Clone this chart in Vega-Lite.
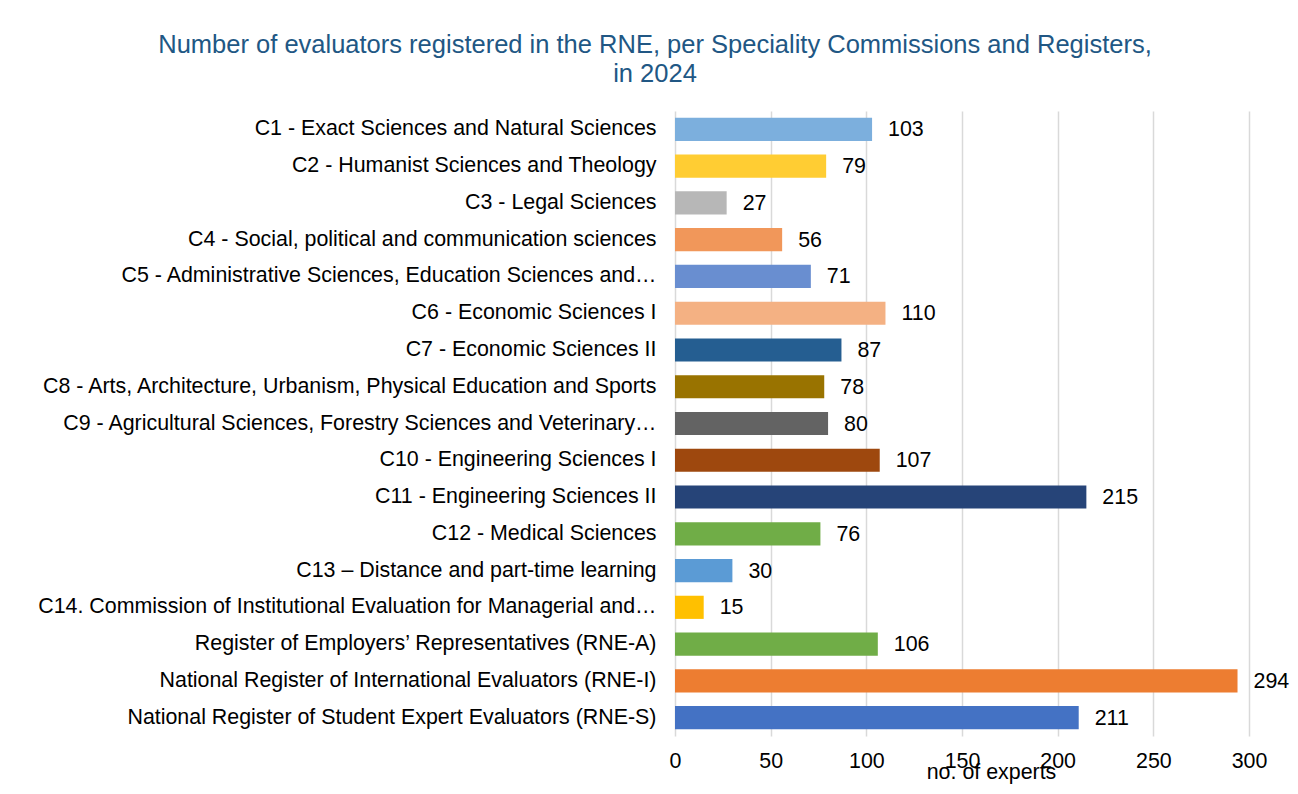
{
  "$schema": "https://vega.github.io/schema/vega-lite/v6.json",
  "autosize": {"type": "none"},
  "padding": {"left": 675, "top": 111, "right": 49, "bottom": 58},
  "width": 574,
  "height": 625,
  "background": "white",
  "config": {"view": {"stroke": null}},
  "title": {
    "text": ["Number of evaluators registered in the RNE, per Speciality Commissions and Registers,", "in 2024"],
    "anchor": "middle",
    "frame": "group",
    "dx": -307,
    "fontSize": 25.5,
    "fontWeight": "normal",
    "font": "Liberation Sans",
    "color": "#215784",
    "lineHeight": 29,
    "offset": 24
  },
  "data": {
    "values": [
      {"category": "C1 - Exact Sciences and Natural Sciences", "value": 103},
      {"category": "C2 - Humanist Sciences and Theology", "value": 79},
      {"category": "C3 - Legal Sciences", "value": 27},
      {"category": "C4 - Social, political and communication sciences", "value": 56},
      {"category": "C5 - Administrative Sciences, Education Sciences and…", "value": 71},
      {"category": "C6 - Economic Sciences I", "value": 110},
      {"category": "C7 - Economic Sciences II", "value": 87},
      {"category": "C8 - Arts, Architecture, Urbanism, Physical Education and Sports", "value": 78},
      {"category": "C9 - Agricultural Sciences, Forestry Sciences and Veterinary…", "value": 80},
      {"category": "C10 - Engineering Sciences I", "value": 107},
      {"category": "C11 - Engineering Sciences II", "value": 215},
      {"category": "C12 - Medical Sciences", "value": 76},
      {"category": "C13 – Distance and part-time learning", "value": 30},
      {"category": "C14. Commission of Institutional Evaluation for Managerial and…", "value": 15},
      {"category": "Register of Employers’ Representatives (RNE-A)", "value": 106},
      {"category": "National Register of International Evaluators (RNE-I)", "value": 294},
      {"category": "National Register of Student Expert Evaluators (RNE-S)", "value": 211}
    ]
  },
  "encoding": {
    "y": {
      "field": "category",
      "type": "nominal",
      "sort": null,
      "scale": {"paddingInner": 0.37, "paddingOuter": 0.185},
      "axis": {
        "title": null,
        "ticks": false,
        "domain": false,
        "labelFontSize": 21.4,
        "labelFont": "Liberation Sans",
        "labelColor": "#000000",
        "labelPadding": 19,
        "labelLimit": 700
      }
    },
    "x": {
      "field": "value",
      "type": "quantitative",
      "scale": {"domain": [0, 300], "nice": false},
      "axis": {
        "values": [0, 50, 100, 150, 200, 250, 300],
        "title": "no. of experts",
        "titleFontSize": 21.4,
        "titleFont": "Liberation Sans",
        "titleFontWeight": "normal",
        "titleColor": "#000000",
        "titleX": 316,
        "titleY": 36,
        "titleAlign": "center",
        "titleBaseline": "middle",
        "ticks": false,
        "domain": false,
        "grid": true,
        "gridColor": "#D9D9D9",
        "gridWidth": 1.5,
        "labelFlush": false,
        "labelOverlap": false,
        "labelFontSize": 21.4,
        "labelFont": "Liberation Sans",
        "labelColor": "#000000",
        "labelPadding": 14
      }
    }
  },
  "layer": [
    {
      "mark": {"type": "bar"},
      "encoding": {
        "color": {
          "field": "category",
          "type": "nominal",
          "legend": null,
          "scale": {
            "domain": [
              "C1 - Exact Sciences and Natural Sciences",
              "C2 - Humanist Sciences and Theology",
              "C3 - Legal Sciences",
              "C4 - Social, political and communication sciences",
              "C5 - Administrative Sciences, Education Sciences and…",
              "C6 - Economic Sciences I",
              "C7 - Economic Sciences II",
              "C8 - Arts, Architecture, Urbanism, Physical Education and Sports",
              "C9 - Agricultural Sciences, Forestry Sciences and Veterinary…",
              "C10 - Engineering Sciences I",
              "C11 - Engineering Sciences II",
              "C12 - Medical Sciences",
              "C13 – Distance and part-time learning",
              "C14. Commission of Institutional Evaluation for Managerial and…",
              "Register of Employers’ Representatives (RNE-A)",
              "National Register of International Evaluators (RNE-I)",
              "National Register of Student Expert Evaluators (RNE-S)"
            ],
            "range": ["#7CAFDD", "#FFCD33", "#B7B7B7", "#F1975A", "#698ED0", "#F4B183", "#255E91", "#997300", "#636363", "#9E480E", "#264478", "#70AD47", "#5B9BD5", "#FFC000", "#70AD47", "#ED7D31", "#4472C4"]
          }
        }
      }
    },
    {
      "mark": {"type": "text", "align": "left", "baseline": "middle", "dx": 16, "dy": 1, "fontSize": 21.4, "font": "Liberation Sans", "color": "#000000"},
      "encoding": {"text": {"field": "value", "type": "quantitative"}}
    }
  ]
}
